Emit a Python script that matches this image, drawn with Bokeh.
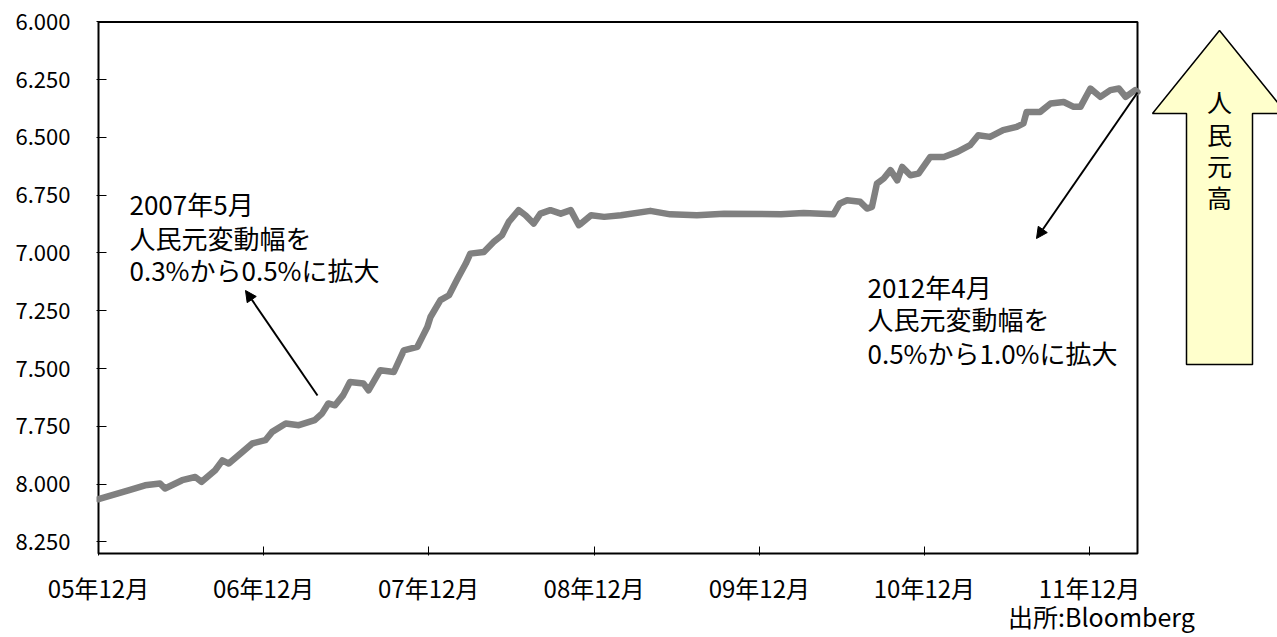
import pandas as pd
from bokeh.plotting import figure
from bokeh.models import (Range1d, FixedTicker, DatetimeTickFormatter, NumeralTickFormatter,
                          Arrow, NormalHead, ColumnDataSource, LinearAxis)
from bokeh.core.properties import value
from bokeh.embed import file_html
from bokeh.resources import INLINE

# ---------------- data (USD/CNY) ----------------
dates = [
    "2005-12-01", "2006-02-07", "2006-03-14", "2006-04-16", "2006-04-27", "2006-06-04",
    "2006-07-03", "2006-07-17", "2006-08-16", "2006-09-01", "2006-09-15", "2006-10-15",
    "2006-11-06", "2006-12-05", "2006-12-20", "2007-01-19", "2007-02-17", "2007-03-24",
    "2007-04-09", "2007-04-23", "2007-05-08", "2007-05-26", "2007-06-10", "2007-07-10",
    "2007-07-21", "2007-08-16", "2007-09-15", "2007-10-07", "2007-11-06", "2007-11-17",
    "2007-11-28", "2007-12-05", "2007-12-27", "2008-01-15", "2008-02-03", "2008-02-21",
    "2008-03-02", "2008-04-01", "2008-04-23", "2008-05-11", "2008-05-26", "2008-06-17",
    "2008-07-02", "2008-07-20", "2008-08-04", "2008-08-26", "2008-09-18", "2008-10-10",
    "2008-10-28", "2008-11-02", "2008-11-24", "2008-12-23", "2009-01-29", "2009-04-04",
    "2009-05-18", "2009-07-16", "2009-09-14", "2010-01-18", "2010-03-09", "2010-05-14",
    "2010-05-28", "2010-06-13", "2010-07-12", "2010-07-27", "2010-08-07", "2010-08-18",
    "2010-09-02", "2010-09-17", "2010-10-02", "2010-10-13", "2010-10-31", "2010-11-18",
    "2010-12-14", "2011-01-13", "2011-02-12", "2011-03-12", "2011-03-30", "2011-04-25",
    "2011-05-24", "2011-06-23", "2011-07-08", "2011-07-15", "2011-08-14", "2011-09-06",
    "2011-10-05", "2011-10-27", "2011-11-11", "2011-12-03", "2011-12-25", "2012-01-16",
    "2012-02-04", "2012-02-19", "2012-03-11", "2012-03-16",
]
usdcny = [
    8.065, 8.026, 8.005, 7.997, 8.019, 7.983,
    7.969, 7.990, 7.940, 7.897, 7.911, 7.861,
    7.824, 7.810, 7.774, 7.738, 7.745, 7.723,
    7.695, 7.651, 7.659, 7.615, 7.558, 7.565,
    7.594, 7.507, 7.515, 7.421, 7.406, 7.363,
    7.320, 7.277, 7.204, 7.183, 7.111, 7.046,
    7.003, 6.996, 6.952, 6.923, 6.866, 6.815,
    6.837, 6.873, 6.830, 6.815, 6.830, 6.815,
    6.880, 6.873, 6.837, 6.844, 6.837, 6.818,
    6.833, 6.837, 6.830, 6.833, 6.827, 6.833,
    6.786, 6.772, 6.779, 6.808, 6.801, 6.700,
    6.678, 6.642, 6.686, 6.628, 6.664, 6.657,
    6.585, 6.585, 6.563, 6.534, 6.491, 6.498,
    6.469, 6.455, 6.440, 6.390, 6.390, 6.354,
    6.347, 6.368, 6.368, 6.289, 6.325, 6.296,
    6.289, 6.325, 6.296, 6.304,
]
y_ticks = [6.0, 6.25, 6.5, 6.75, 7.0, 7.25, 7.5, 7.75, 8.0, 8.25]
x_tick_dates = ["2005-12-01", "2006-12-01", "2007-12-01", "2008-12-01",
                "2009-12-01", "2010-12-01", "2011-12-01"]

note_left = ["2007年5月", "人民元変動幅を", "0.3%から0.5%に拡大"]
note_right = ["2012年4月", "人民元変動幅を", "0.5%から1.0%に拡大"]
arrow_chars = ["人", "民", "元", "高"]
source_text = "出所:Bloomberg"

# ---------------- layout helpers (pixel -> data) ----------------
FONT = "Noto Sans CJK JP"
W, H = 1277, 637


def ms(s):
    return pd.Timestamp(s).value / 1e6


T0, T1 = ms("2005-12-01"), ms("2011-12-01")
MS_PER_PX = (T1 - T0) / (1089 - 98)
U_PER_PX = 0.25 / 57.8
Y_AT_553 = 8.30


def px_x(px):
    return T0 + (px - 98) * MS_PER_PX


def px_y(py):
    return Y_AT_553 - (553 - py) * U_PER_PX


FRAME_L, FRAME_B = 96, 555

p = figure(width=W, height=H, x_axis_type="datetime", output_backend="svg",
           toolbar_location=None,
           x_range=Range1d(px_x(FRAME_L), px_x(W)),
           y_range=Range1d(px_y(FRAME_B), px_y(0)),
           min_border_left=FRAME_L, min_border_right=0, min_border_top=0,
           min_border_bottom=H - FRAME_B)
p.outline_line_color = None
p.xgrid.visible = False
p.ygrid.visible = False
p.background_fill_color = "white"
p.border_fill_color = "white"

# y axis
p.yaxis.ticker = FixedTicker(ticks=y_ticks)
p.yaxis.formatter = NumeralTickFormatter(format="0.000")
p.yaxis.axis_line_color = None
p.yaxis.major_tick_in = 10
p.yaxis.major_tick_out = 0
p.yaxis.major_tick_line_color = "black"
p.yaxis.minor_tick_line_color = None
p.yaxis.major_label_standoff = 26
p.yaxis.major_label_text_font = FONT
p.yaxis.major_label_text_font_size = "22px"
p.yaxis.major_label_text_color = "black"

# x axis
fmt = "%y年%m月"
p.xaxis.ticker = FixedTicker(ticks=[ms(d) for d in x_tick_dates])
p.xaxis.formatter = DatetimeTickFormatter(years=fmt, months=fmt, days=fmt, hours=fmt,
                                          minutes=fmt, seconds=fmt, milliseconds=fmt,
                                          microseconds=fmt, hourmin=fmt, minsec=fmt)
p.xaxis.axis_line_color = None
p.xaxis.major_tick_in = 9
p.xaxis.major_tick_out = 0
p.xaxis.major_tick_line_color = "black"
p.xaxis.minor_tick_line_color = None
p.xaxis.major_label_standoff = 14
p.xaxis.major_label_text_font = FONT
p.xaxis.major_label_text_font_size = "24px"
p.xaxis.major_label_text_color = "black"

# source note: a second, line-less axis below the first, with one labelled tick
p.extra_x_ranges = {"px": Range1d(FRAME_L, W)}
src_tick = 1101
src_axis = LinearAxis(x_range_name="px", ticker=FixedTicker(ticks=[src_tick]),
                      major_label_overrides={src_tick: source_text},
                      axis_line_color=None, major_tick_line_color=None,
                      minor_tick_line_color=None, major_tick_in=0, major_tick_out=0,
                      major_label_standoff=-10, major_label_text_font=FONT,
                      major_label_text_font_size="25px", major_label_text_color="black")
p.add_layout(src_axis, "below")

# plot box
p.quad(left=px_x(98), right=px_x(1137), top=px_y(21.5), bottom=px_y(553),
       fill_color=None, line_color="black", line_width=2)

# series
src = ColumnDataSource(dict(date=[ms(d) for d in dates], rate=usdcny))
p.line(x="date", y="rate", source=src, line_color="#808080", line_width=6.5,
       line_join="round", line_cap="round")

# callout arrows
p.add_layout(Arrow(end=NormalHead(size=11, fill_color="black", line_color="black"),
                   x_start=px_x(317), y_start=px_y(395), x_end=px_x(245), y_end=px_y(290),
                   line_width=2, line_color="black"))
p.add_layout(Arrow(end=NormalHead(size=11, fill_color="black", line_color="black"),
                   x_start=px_x(1137), y_start=px_y(92), x_end=px_x(1036), y_end=px_y(238),
                   line_width=2, line_color="black"))


# notes
def add_lines(lines, xs, ys, align="left", size="26px"):
    s = ColumnDataSource(dict(x=xs, y=ys, t=lines))
    p.text(x="x", y="y", text="t", source=s, text_font=value(FONT), text_font_size=size,
           text_align=align, text_baseline="middle", text_color="black")


add_lines(note_left, [px_x(129)] * 3, [px_y(v) for v in (203, 237, 269)])
add_lines(note_right, [px_x(867)] * 3, [px_y(v) for v in (286, 318, 352)])

# big "人民元高" arrow
ax = [1219, 1286, 1252, 1252, 1186, 1186, 1152]
ay = [30, 113, 113, 364, 364, 113, 113]
p.patch(x=[px_x(v) for v in ax], y=[px_y(v) for v in ay], fill_color="#FFFFCC",
        line_color="black", line_width=1.5)
add_lines(arrow_chars, [px_x(1219)] * 4, [px_y(v) for v in (100, 133, 164, 196)],
          align="center", size="25px")

open("out.html", "w").write(file_html(p, INLINE))
